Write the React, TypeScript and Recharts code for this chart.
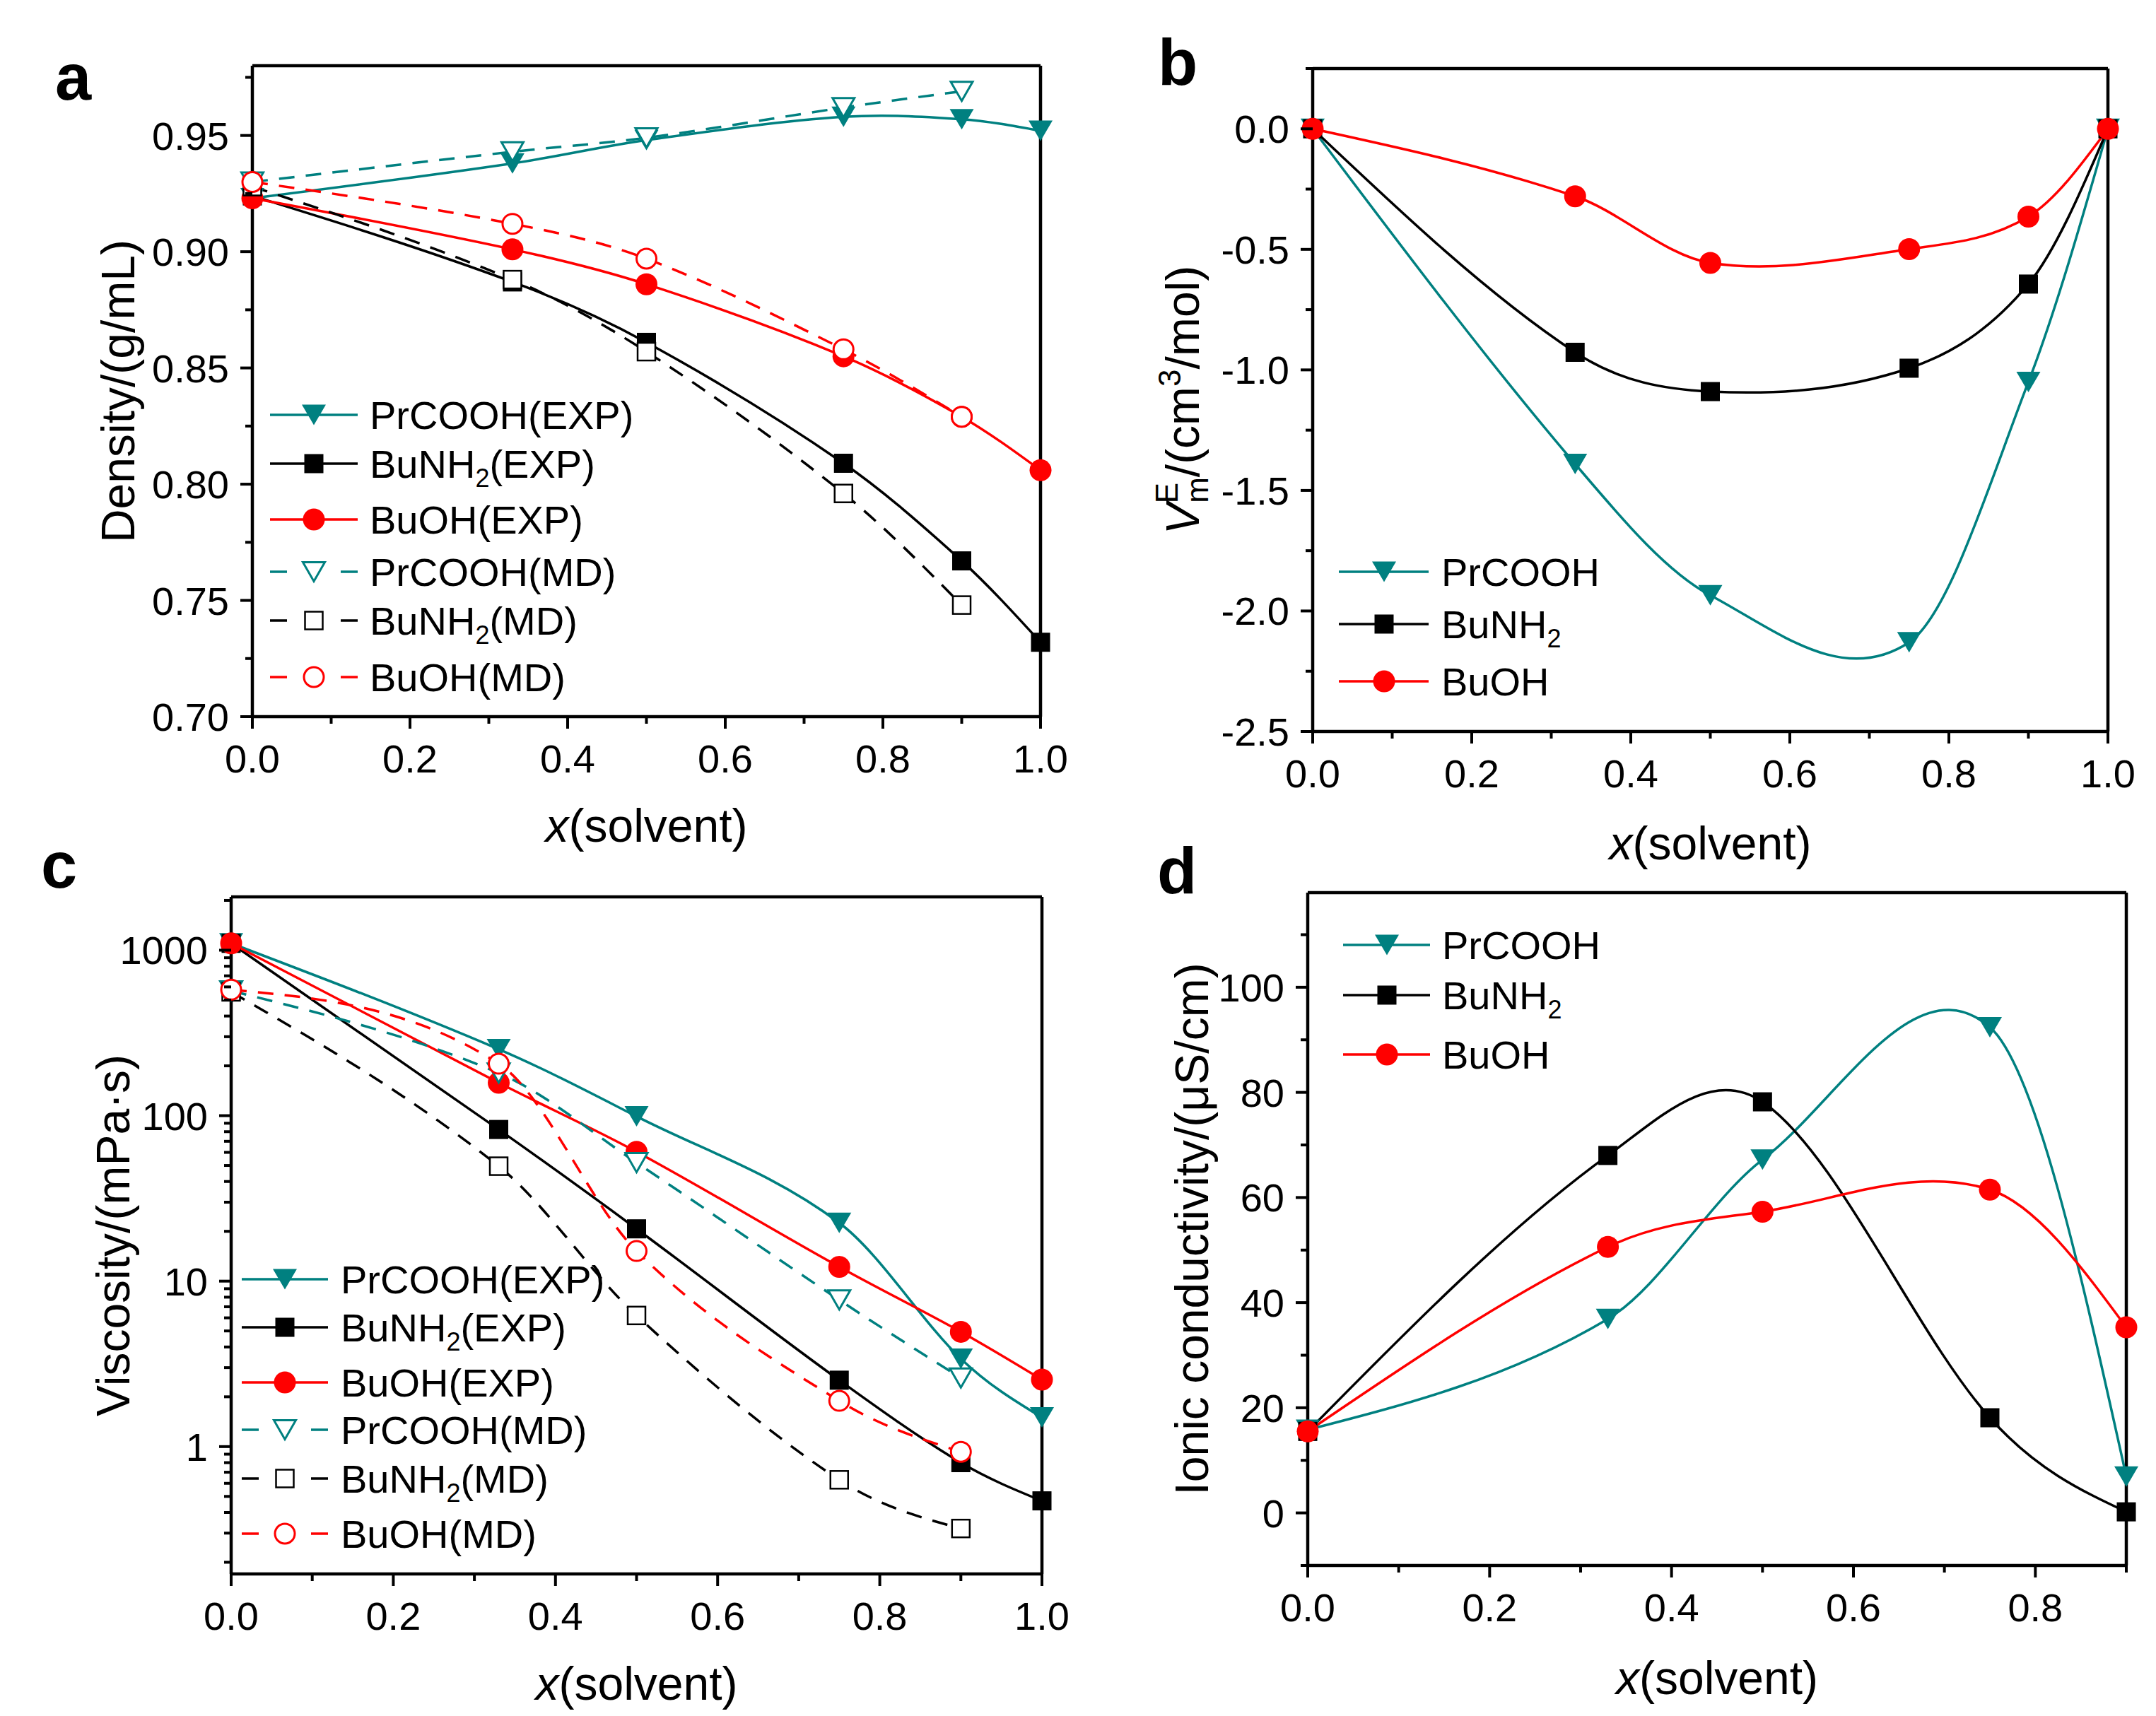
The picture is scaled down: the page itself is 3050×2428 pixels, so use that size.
import React from 'react';
import { LineChart, Line, XAxis, YAxis, ReferenceLine } from 'recharts';

const TEAL = '#008080';
const RED = '#ff0000';
const BLACK = '#000000';
const FONT = '"Liberation Sans", Arial, Helvetica, sans-serif';

// mole fraction of solvent
const xSolvent = [0, 0.33, 0.5, 0.75, 0.9, 1.0];
const xSolventMD = [0, 0.33, 0.5, 0.75, 0.9];
const xSolventCond = [0, 0.33, 0.5, 0.75, 0.9];

// (a) density, g/mL
const densPrCOOHExp = [0.923, 0.938, 0.948, 0.958, 0.957, 0.952];
const densBuNH2Exp = [0.924, 0.887, 0.861, 0.809, 0.767, 0.732];
const densBuOHExp = [0.923, 0.901, 0.886, 0.855, 0.829, 0.806];
const densPrCOOHMd = [0.93, 0.943, 0.949, 0.962, 0.969];
const densBuNH2Md = [0.928, 0.888, 0.857, 0.796, 0.748];
const densBuOHMd = [0.93, 0.912, 0.897, 0.858, 0.829];

// (b) excess molar volume, cm3/mol
const vePrCOOH = [0, -1.39, -1.935, -2.13, -1.05, 0];
const veBuNH2 = [0, -0.927, -1.09, -0.993, -0.644, 0];
const veBuOH = [0, -0.28, -0.556, -0.499, -0.364, 0];

// (c) viscosity, mPa·s
const viscPrCOOHExp = [1100, 252, 99, 22.5, 3.4, 1.5];
const viscBuNH2Exp = [1100, 82.5, 20.7, 2.52, 0.8, 0.47];
const viscBuOHExp = [1100, 158, 60.5, 12.2, 4.94, 2.54];
const viscPrCOOHMd = [568, 181, 52, 7.7, 2.6];
const viscBuNH2Md = [560, 49.5, 6.2, 0.63, 0.32];
const viscBuOHMd = [577, 206, 15.2, 1.89, 0.93];

// (d) ionic conductivity, µS/cm
const condPrCOOH = [15.8, 36.9, 67.2, 92.4, 6.9];
const condBuNH2 = [15.5, 68.0, 78.2, 18.1, 0.2];
const condBuOH = [15.5, 50.6, 57.3, 61.5, 35.3];

// ticks
const xTicksUnit = [0, 0.2, 0.4, 0.6, 0.8, 1.0];
const xMinorUnit = [0.1, 0.3, 0.5, 0.7, 0.9];
const xTicksCond = [0, 0.2, 0.4, 0.6, 0.8];
const xMinorCond = [0.1, 0.3, 0.5, 0.7, 0.9];
const densTicks = [0.7, 0.75, 0.8, 0.85, 0.9, 0.95];
const densMinor = [0.725, 0.775, 0.825, 0.875, 0.925, 0.975];
const veTicks = [-2.5, -2.0, -1.5, -1.0, -0.5, 0];
const veMinor = [-2.25, -1.75, -1.25, -0.75, -0.25, 0.25];
const viscTicks = [1, 10, 100, 1000];
const viscMinor = [
  0.2, 0.3, 0.4, 0.5, 0.6, 0.7, 0.8, 0.9,
  2, 3, 4, 5, 6, 7, 8, 9,
  20, 30, 40, 50, 60, 70, 80, 90,
  200, 300, 400, 500, 600, 700, 800, 900, 2000,
];
const condTicks = [0, 20, 40, 60, 80, 100];
const condMinor = [-10, 10, 30, 50, 70, 90, 110];

type MarkerKind = 'tri' | 'square' | 'circle';

interface Series {
  name: string;
  xs: number[];
  ys: number[];
  color: string;
  marker: MarkerKind;
  open?: boolean;
  dashed?: boolean;
}

const expMd = (
  pr: number[], bu: number[], oh: number[],
  prMd: number[], buMd: number[], ohMd: number[],
): Series[] => [
  { name: 'PrCOOH(EXP)', xs: xSolvent, ys: pr, color: TEAL, marker: 'tri' },
  { name: 'BuNH2(EXP)', xs: xSolvent, ys: bu, color: BLACK, marker: 'square' },
  { name: 'BuOH(EXP)', xs: xSolvent, ys: oh, color: RED, marker: 'circle' },
  { name: 'PrCOOH(MD)', xs: xSolventMD, ys: prMd, color: TEAL, marker: 'tri', open: true, dashed: true },
  { name: 'BuNH2(MD)', xs: xSolventMD, ys: buMd, color: BLACK, marker: 'square', open: true, dashed: true },
  { name: 'BuOH(MD)', xs: xSolventMD, ys: ohMd, color: RED, marker: 'circle', open: true, dashed: true },
];

const densitySeries = expMd(densPrCOOHExp, densBuNH2Exp, densBuOHExp, densPrCOOHMd, densBuNH2Md, densBuOHMd);
const viscSeries = expMd(viscPrCOOHExp, viscBuNH2Exp, viscBuOHExp, viscPrCOOHMd, viscBuNH2Md, viscBuOHMd);

const veSeries: Series[] = [
  { name: 'PrCOOH', xs: xSolvent, ys: vePrCOOH, color: TEAL, marker: 'tri' },
  { name: 'BuNH2', xs: xSolvent, ys: veBuNH2, color: BLACK, marker: 'square' },
  { name: 'BuOH', xs: xSolvent, ys: veBuOH, color: RED, marker: 'circle' },
];

const condSeries: Series[] = [
  { name: 'PrCOOH', xs: xSolventCond, ys: condPrCOOH, color: TEAL, marker: 'tri' },
  { name: 'BuNH2', xs: xSolventCond, ys: condBuNH2, color: BLACK, marker: 'square' },
  { name: 'BuOH', xs: xSolventCond, ys: condBuOH, color: RED, marker: 'circle' },
];

// Curve factory: cubic Hermite through the points, y as a function of x,
// tangents from neighbouring points (cardinal-style), natural ends
function hermiteX(context: any) {
  let px: number[] = [];
  let py: number[] = [];
  return {
    areaStart() {},
    areaEnd() {},
    lineStart() {
      px = [];
      py = [];
    },
    point(x: number, y: number) {
      px.push(+x);
      py.push(+y);
    },
    lineEnd() {
      const n = px.length;
      if (n === 0) return;
      context.moveTo(px[0], py[0]);
      if (n === 1) return;
      if (n === 2) {
        context.lineTo(px[1], py[1]);
        return;
      }
      const t: number[] = new Array(n).fill(0);
      for (let i = 1; i < n - 1; i++) t[i] = (py[i + 1] - py[i - 1]) / (px[i + 1] - px[i - 1]);
      const s0 = (py[1] - py[0]) / (px[1] - px[0]);
      const sn = (py[n - 1] - py[n - 2]) / (px[n - 1] - px[n - 2]);
      t[0] = (3 * s0 - t[1]) / 2;
      t[n - 1] = (3 * sn - t[n - 2]) / 2;
      for (let i = 0; i < n - 1; i++) {
        const h = px[i + 1] - px[i];
        context.bezierCurveTo(
          px[i] + h / 3, py[i] + (t[i] * h) / 3,
          px[i + 1] - h / 3, py[i + 1] - (t[i + 1] * h) / 3,
          px[i + 1], py[i + 1],
        );
      }
    },
  };
}

function Marker({ cx, cy, kind, color, open }: { cx: number; cy: number; kind: MarkerKind; color: string; open?: boolean }) {
  if (cx == null || cy == null) return null;
  const fill = open ? '#fff' : color;
  const sw = open ? 3 : 0;
  if (kind === 'tri') {
    const w = open ? 31 : 34;
    const h = open ? 27 : 29;
    return (
      <polygon
        points={`${cx - w / 2},${cy - h / 2} ${cx + w / 2},${cy - h / 2} ${cx},${cy + h / 2}`}
        fill={fill}
        stroke={color}
        strokeWidth={sw}
      />
    );
  }
  if (kind === 'square') {
    const s = open ? 25 : 27;
    return <rect x={cx - s / 2} y={cy - s / 2} width={s} height={s} fill={fill} stroke={color} strokeWidth={open ? 2.5 : 0} />;
  }
  return <circle cx={cx} cy={cy} r={open ? 14 : 15.5} fill={fill} stroke={color} strokeWidth={sw} />;
}

const near = (a: number, b: number) => Math.abs(a - b) <= 1e-6 * Math.max(1, Math.abs(a));

const XTick = (props: any) => {
  const { x, y, payload, majors, fmt } = props;
  const major = majors.some((m: number) => near(m, payload.value));
  return (
    <g>
      <line x1={x} y1={y} x2={x} y2={y + (major ? 17 : 10)} stroke="#000" strokeWidth={4} />
      {major && (
        <text x={x} y={y + 79} textAnchor="middle" fontSize={56} fontFamily={FONT} fill="#000">
          {fmt(payload.value)}
        </text>
      )}
    </g>
  );
};

const YTick = (props: any) => {
  const { x, y, payload, majors, fmt } = props;
  const major = majors.some((m: number) => near(m, payload.value));
  return (
    <g>
      <line x1={x} y1={y} x2={x - (major ? 17 : 10)} y2={y} stroke="#000" strokeWidth={4} />
      {major && (
        <text x={x - 33} y={y + 20} textAnchor="end" fontSize={56} fontFamily={FONT} fill="#000">
          {fmt(payload.value)}
        </text>
      )}
    </g>
  );
};

interface Box { x: number; y: number; w: number; h: number }

interface PanelProps {
  box: Box;
  xDomain: [number, number];
  xTicks: number[];
  xMinor: number[];
  yDomain: [number, number];
  yTicks: number[];
  yMinor: number[];
  yFmt: (v: number) => string;
  yLog?: boolean;
  series: Series[];
}

const ML = 260;
const MT = 40;
const MR = 40;
const MB = 140;

function Panel({ box, xDomain, xTicks, xMinor, yDomain, yTicks, yMinor, yFmt, yLog, series }: PanelProps) {
  const W = box.w + ML + MR;
  const H = box.h + MT + MB;
  const axisLine = { stroke: '#000', strokeWidth: 4.5 };
  return (
    <div style={{ position: 'absolute', left: box.x - ML, top: box.y - MT, width: W, height: H }}>
      <LineChart width={W} height={H} margin={{ top: MT, right: MR, left: 0, bottom: 0 }}>
        <XAxis
          type="number"
          dataKey="x"
          domain={xDomain}
          ticks={[...xTicks, ...xMinor]}
          interval={0}
          tickSize={0}
          tickMargin={0}
          tickLine={false}
          axisLine={axisLine}
          height={MB}
          tick={(p: any) => <XTick {...p} majors={xTicks} fmt={(v: number) => v.toFixed(1)} />}
        />
        <YAxis
          type="number"
          scale={yLog ? 'log' : 'linear'}
          domain={yDomain}
          ticks={[...yTicks, ...yMinor]}
          interval={0}
          tickSize={0}
          tickMargin={0}
          tickLine={false}
          axisLine={axisLine}
          width={ML}
          tick={(p: any) => <YTick {...p} majors={yTicks} fmt={yFmt} />}
        />
        <ReferenceLine y={yDomain[1]} stroke="#000" strokeWidth={4.5} />
        <ReferenceLine x={xDomain[1]} stroke="#000" strokeWidth={4.5} />
        {series.map((s) => (
          <Line
            key={s.name}
            data={s.xs.map((x, i) => ({ x, y: s.ys[i] }))}
            dataKey="y"
            type={hermiteX as any}
            stroke={s.color}
            strokeWidth={3.5}
            strokeDasharray={s.dashed ? '22 16' : undefined}
            dot={(p: any) => (
              <Marker key={`${s.name}-${p.index}`} cx={p.cx} cy={p.cy} kind={s.marker} color={s.color} open={s.open} />
            )}
            activeDot={false}
            isAnimationActive={false}
          />
        ))}
      </LineChart>
    </div>
  );
}

function SeriesName({ name }: { name: string }) {
  const i = name.indexOf('NH2');
  if (i < 0) return <tspan>{name}</tspan>;
  return (
    <>
      <tspan>{name.slice(0, i + 2)}</tspan>
      <tspan fontSize={36} dy={13}>2</tspan>
      <tspan dy={-13}>{name.slice(i + 3)}</tspan>
    </>
  );
}

interface LegendSpec { series: Series[]; rows: number[]; x1: number; x2: number; mx: number; tx: number }

function LegendBlock({ series, rows, x1, x2, mx, tx }: LegendSpec) {
  return (
    <g>
      {series.map((s, i) => {
        const y = rows[i];
        return (
          <g key={s.name}>
            {s.dashed ? (
              <>
                <line x1={x1} y1={y} x2={x1 + 24} y2={y} stroke={s.color} strokeWidth={3.5} />
                <line x1={x2 - 24} y1={y} x2={x2} y2={y} stroke={s.color} strokeWidth={3.5} />
              </>
            ) : (
              <line x1={x1} y1={y} x2={x2} y2={y} stroke={s.color} strokeWidth={3.5} />
            )}
            <Marker cx={mx} cy={y} kind={s.marker} color={s.color} open={s.open} />
            <text x={tx} y={y + 20} fontSize={56} fontFamily={FONT} fill="#000">
              <SeriesName name={s.name} />
            </text>
          </g>
        );
      })}
    </g>
  );
}

const boxA: Box = { x: 357, y: 93, w: 1115, h: 921 };
const boxB: Box = { x: 1857, y: 97, w: 1125, h: 938 };
const boxC: Box = { x: 327, y: 1269, w: 1147, h: 958 };
const boxD: Box = { x: 1850, y: 1263, w: 1158, h: 952 };

const XTitle = ({ box, base }: { box: Box; base: number }) => (
  <text x={box.x + box.w / 2} y={base} textAnchor="middle" fontSize={66} fontFamily={FONT} fill="#000">
    <tspan fontStyle="italic">x</tspan>
    <tspan>(solvent)</tspan>
  </text>
);

const YTitle = ({ x, box, children }: { x: number; box: Box; children: React.ReactNode }) => (
  <text
    transform={`translate(${x},${box.y + box.h / 2}) rotate(-90)`}
    textAnchor="middle"
    fontSize={66}
    fontFamily={FONT}
    fill="#000"
  >
    {children}
  </text>
);

const Letter = ({ x, y, t }: { x: number; y: number; t: string }) => (
  <text x={x} y={y} fontSize={92} fontWeight="bold" fontFamily={FONT} fill="#000">
    {t}
  </text>
);

export default function App() {
  return (
    <div
      style={{
        position: 'absolute',
        left: 0,
        top: 0,
        width: 3050,
        height: 2428,
        background: '#fff',
        overflow: 'hidden',
        fontFamily: FONT,
      }}
    >
      <Panel
        box={boxA}
        xDomain={[0, 1]}
        xTicks={xTicksUnit}
        xMinor={xMinorUnit}
        yDomain={[0.7, 0.98]}
        yTicks={densTicks}
        yMinor={densMinor}
        yFmt={(v) => v.toFixed(2)}
        series={densitySeries}
      />
      <Panel
        box={boxB}
        xDomain={[0, 1]}
        xTicks={xTicksUnit}
        xMinor={xMinorUnit}
        yDomain={[-2.5, 0.25]}
        yTicks={veTicks}
        yMinor={veMinor}
        yFmt={(v) => v.toFixed(1)}
        series={veSeries}
      />
      <Panel
        box={boxC}
        xDomain={[0, 1]}
        xTicks={xTicksUnit}
        xMinor={xMinorUnit}
        yDomain={[0.17, 2100]}
        yTicks={viscTicks}
        yMinor={viscMinor}
        yFmt={(v) => String(Math.round(v))}
        yLog
        series={viscSeries}
      />
      <Panel
        box={boxD}
        xDomain={[0, 0.9]}
        xTicks={xTicksCond}
        xMinor={xMinorCond}
        yDomain={[-10, 118]}
        yTicks={condTicks}
        yMinor={condMinor}
        yFmt={(v) => String(Math.round(v))}
        series={condSeries}
      />
      <svg
        width={3050}
        height={2428}
        style={{ position: 'absolute', left: 0, top: 0, pointerEvents: 'none' }}
      >
        <Letter x={78} y={141} t="a" />
        <Letter x={1638} y={120} t="b" />
        <Letter x={58} y={1256} t="c" />
        <Letter x={1637} y={1264} t="d" />

        <XTitle box={boxA} base={1191} />
        <XTitle box={boxB} base={1216} />
        <XTitle box={boxC} base={2405} />
        <XTitle box={boxD} base={2397} />

        <YTitle x={190} box={boxA}>Density/(g/mL)</YTitle>
        <YTitle x={1696} box={boxB}>
          <tspan fontStyle="italic">V</tspan>
          <tspan fontSize={44} dy={-30}>E</tspan>
          <tspan fontSize={44} dx={-29} dy={43}>m</tspan>
          <tspan dy={-13}>/(cm</tspan>
          <tspan fontSize={44} dy={-26}>3</tspan>
          <tspan dy={26}>/mol)</tspan>
        </YTitle>
        <YTitle x={183} box={boxC}>Viscosity/(mPa·s)</YTitle>
        <YTitle x={1709} box={boxD}>Ionic conductivity/(μS/cm)</YTitle>

        <LegendBlock series={densitySeries} rows={[587, 656, 735, 809, 878, 958]} x1={382} x2={506} mx={444} tx={523} />
        <LegendBlock series={veSeries} rows={[809, 883, 964]} x1={1894} x2={2021} mx={1958} tx={2039} />
        <LegendBlock series={viscSeries} rows={[1810, 1878, 1956, 2023, 2092, 2170]} x1={342} x2={464} mx={403} tx={482} />
        <LegendBlock series={condSeries} rows={[1337, 1408, 1492]} x1={1900} x2={2023} mx={1962} tx={2040} />
      </svg>
    </div>
  );
}
